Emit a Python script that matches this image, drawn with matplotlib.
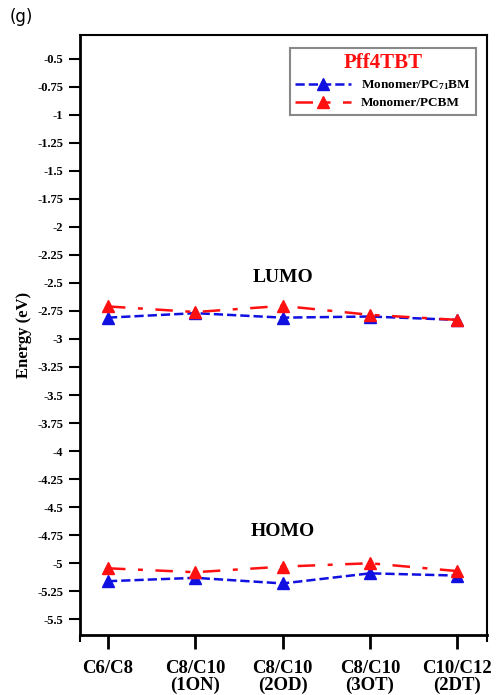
import numpy as np
import matplotlib
matplotlib.use("Agg")
import matplotlib.pyplot as plt

plt.rcParams['font.family'] = ['Liberation Serif', 'DejaVu Serif']
plt.rcParams['font.weight'] = 'bold'
plt.rcParams['mathtext.fontset'] = 'custom'
plt.rcParams['mathtext.rm'] = 'Liberation Serif:bold'
plt.rcParams['mathtext.default'] = 'rm'

categories = ['C6/C8', 'C8/C10\n(1ON)', 'C8/C10\n(2OD)', 'C8/C10\n(3OT)', 'C10/C12\n(2DT)']
lumo_pc71bm = [-2.81, -2.77, -2.81, -2.80, -2.83]
lumo_pcbm = [-2.71, -2.76, -2.705, -2.785, -2.83]
homo_pc71bm = [-5.16, -5.13, -5.18, -5.09, -5.11]
homo_pcbm = [-5.045, -5.08, -5.03, -5.00, -5.07]
yticks = [-0.5, -0.75, -1, -1.25, -1.5, -1.75, -2, -2.25, -2.5, -2.75, -3, -3.25,
          -3.5, -3.75, -4, -4.25, -4.5, -4.75, -5, -5.25, -5.5]

fig = plt.figure(figsize=(4.97, 6.95), dpi=100)
ax = fig.add_axes([0.161, 0.0863, 0.819, 0.8633])

x = np.arange(len(categories))
red_dash = (0, (7, 5, 2, 5))

ax.plot(x, lumo_pc71bm, color='#1010e0', linestyle='--', linewidth=1.8,
        marker='^', markersize=9, label='Monomer/PC$_{71}$BM')
ax.plot(x, lumo_pcbm, color='#ff1010', linestyle=red_dash, linewidth=1.8,
        marker='^', markersize=9, label='Monomer/PCBM')
ax.plot(x, homo_pc71bm, color='#1010e0', linestyle='--', linewidth=1.8,
        marker='^', markersize=9)
ax.plot(x, homo_pcbm, color='#ff1010', linestyle=red_dash, linewidth=1.8,
        marker='^', markersize=9)

ax.text(2, -2.455, 'LUMO', ha='center', va='center', fontsize=14, fontweight='bold')
ax.text(2, -4.72, 'HOMO', ha='center', va='center', fontsize=14, fontweight='bold')

ax.set_xlim(-0.32, 4.34)
ax.set_ylim(-5.64, -0.29)
ax.set_xticks(x)
ax.set_xticklabels(categories, fontsize=13.5, fontweight='bold', linespacing=1.0)
ax.set_yticks(yticks)
ax.set_yticklabels([f'{v:g}' for v in yticks], fontsize=9, fontweight='bold')
ax.set_xticks([-0.32, 4.34], minor=True)
ax.tick_params(axis='x', which='major', direction='out', length=10, width=2, pad=8)
ax.tick_params(axis='x', which='minor', direction='out', length=5, width=1.5)
ax.tick_params(axis='y', direction='out', length=8, width=1.5, pad=4)
ax.set_ylabel('Energy (eV)', fontsize=12, fontweight='bold', labelpad=4)

for side in ['left', 'bottom']:
    ax.spines[side].set_linewidth(2)
for side in ['right', 'top']:
    ax.spines[side].set_linewidth(1.5)

leg = ax.legend(loc='upper right', title='Pff4TBT', prop={'size': 9.5, 'weight': 'bold'},
                fancybox=False, edgecolor='#888888', framealpha=1, borderpad=0.4,
                handlelength=4.2, labelspacing=0.4, title_fontsize=15,
                bbox_to_anchor=(0.99, 0.99))
leg.get_title().set_color('#ff1010')
leg.get_title().set_fontweight('bold')
leg.get_frame().set_linewidth(1.5)

fig.text(0.02, 0.975, '(g)', fontsize=12, family='DejaVu Sans', fontweight='normal',
         va='center')

fig.savefig('out.png', dpi=100)
